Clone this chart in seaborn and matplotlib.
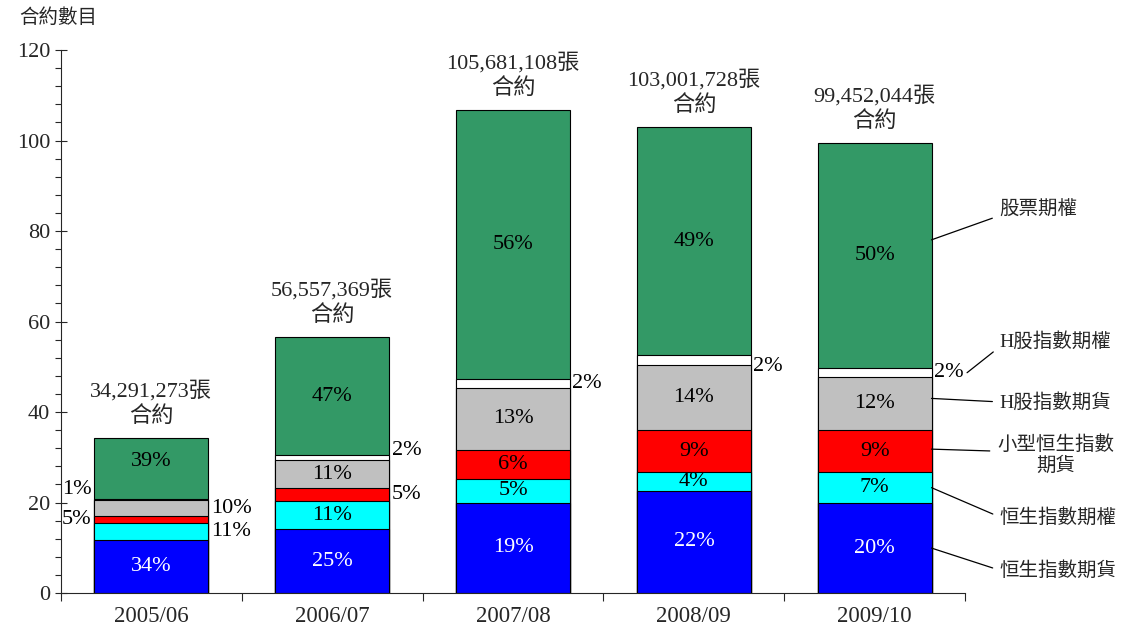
import matplotlib
matplotlib.use("Agg")
import matplotlib.pyplot as plt
import matplotlib.ticker as ticker
import seaborn as sns

# Categories and totals (number of contracts)
years = ["2005/06", "2006/07", "2007/08", "2008/09", "2009/10"]
total_labels = ["34,291,273", "56,557,369", "105,681,108", "103,001,728", "99,452,044"]

# Segment sizes in millions of contracts (bottom to top)
hsi_fut = [11.7, 14.1, 20.0, 22.6, 19.9]
hsi_opt = [3.7, 6.2, 5.3, 4.1, 6.8]
mhi_fut = [1.6, 2.9, 6.4, 9.3, 9.3]
hh_fut = [3.5, 6.2, 13.7, 14.5, 11.7]
hh_opt = [0.4, 1.1, 2.0, 2.1, 2.0]
stock_opt = [13.4, 26.1, 59.3, 50.4, 49.75]

# Percent labels shown on the bars
pct_hsi_fut = ["34%", "25%", "19%", "22%", "20%"]
pct_hsi_opt = ["11%", "11%", "5%", "4%", "7%"]
pct_mhi_fut = ["5%", "5%", "6%", "9%", "9%"]
pct_hh_fut = ["10%", "11%", "13%", "14%", "12%"]
pct_hh_opt = ["1%", "2%", "2%", "2%", "2%"]
pct_stock_opt = ["39%", "47%", "56%", "49%", "50%"]

series_names = ["恒生指數期貨", "恒生指數期權", "小型恒生指數\n期貨",
                "H股指數期貨", "H股指數期權", "股票期權"]

layers = [hsi_fut, hsi_opt, mhi_fut, hh_fut, hh_opt, stock_opt]
pcts = [pct_hsi_fut, pct_hsi_opt, pct_mhi_fut, pct_hh_fut, pct_hh_opt, pct_stock_opt]
colors = ["#0000FF", "#00FFFF", "#FF0000", "#C0C0C0", "#FFFFFF", "#339966"]
text_colors = ["white", "black", "black", "black", "black", "black"]
# where each percent label goes: c = inside, r = right of bar, l = left of bar
places = [
    ["c", "c", "c", "c", "c"],
    ["r", "c", "c", "c", "c"],
    ["l", "r", "c", "c", "c"],
    ["r", "c", "c", "c", "c"],
    ["l", "r", "r", "r", "r"],
    ["c", "c", "c", "c", "c"],
]
nudges = {(4, 0): 7, (4, 1): 5, (4, 3): -5, (5, 0): 5}

sns.set_style("ticks")
plt.rcParams["font.family"] = ["Liberation Serif", "Noto Sans CJK TC"]
plt.rcParams["axes.linewidth"] = 0.8

fig, ax = plt.subplots(figsize=(11.25, 6.33), dpi=100)
fig.subplots_adjust(left=0.054, right=0.858, bottom=0.063, top=0.921)

bar_w = 0.627

# cumulative tops, drawn from the top layer down so lower layers overlap
bottoms = []
running = [0.0] * len(years)
for layer in layers:
    bottoms.append(list(running))
    running = [r + v for r, v in zip(running, layer)]

for k in range(len(layers) - 1, -1, -1):
    tops = [b + v for b, v in zip(bottoms[k], layers[k])]
    sns.barplot(x=years, y=tops, color=colors[k], saturation=1, width=bar_w,
                edgecolor="black", linewidth=0.8, ax=ax)

# percent labels
for k, layer in enumerate(layers):
    for i, v in enumerate(layer):
        ymid = bottoms[k][i] + v / 2
        dy = nudges.get((k, i), 0)
        p = places[k][i]
        if p == "c":
            ax.annotate(pcts[k][i], (i, ymid), xytext=(0, dy), textcoords="offset points",
                        ha="center", va="center", fontsize=16, color=text_colors[k])
        elif p == "r":
            ax.annotate(pcts[k][i], (i + bar_w / 2, ymid), xytext=(2, dy),
                        textcoords="offset points", ha="left", va="center",
                        fontsize=16, color="black")
        else:
            ax.annotate(pcts[k][i], (i - bar_w / 2, ymid), xytext=(-2, dy),
                        textcoords="offset points", ha="right", va="center",
                        fontsize=16, color="black")

# totals above bars
for i, lab in enumerate(total_labels):
    ax.annotate(lab + "張\n合約", (i, running[i]), xytext=(0, 8), textcoords="offset points",
                ha="center", va="bottom", fontsize=16, linespacing=1.3)

# series names on the right, pointing at the last bar
last = len(years) - 1
name_pos = [(1.103, 0.042), (1.103, 0.140), (1.100, 0.254),
            (1.100, 0.352), (1.100, 0.464), (1.081, 0.705)]
anchor_frac = [0.5, 0.5, 0.55, 0.6, 0.5, 0.57]
rel_y = [0.5, 0.5, 0.6, 0.5, 0.2, 0.2]
for k, name in enumerate(series_names):
    yanc = bottoms[k][last] + layers[k][last] * anchor_frac[k]
    x0 = last + bar_w / 2
    if k == 4:
        x0 = last + 0.51
    ax.annotate(name, xy=(x0, yanc), xycoords="data",
                xytext=name_pos[k], textcoords="axes fraction",
                ha="center", va="center", fontsize=14, annotation_clip=False,
                arrowprops=dict(arrowstyle="-", color="black", lw=0.9,
                                relpos=(0, rel_y[k]), shrinkA=3, shrinkB=0))

ax.text(-0.003, 1.059, "合約數目", transform=ax.transAxes, ha="center", va="center",
        fontsize=14)

ax.set_xlim(-0.5, len(years) - 0.5)
ax.set_ylim(0, 120)
ax.set_xlabel("")
ax.set_ylabel("")
ax.yaxis.set_major_locator(ticker.MultipleLocator(20))
ax.yaxis.set_minor_locator(ticker.MultipleLocator(4))
ax.tick_params(axis="y", which="major", length=9, width=0.8, direction="inout",
               labelsize=16, pad=3)
ax.tick_params(axis="y", which="minor", length=4, width=0.8)
ax.set_xticks(range(len(years)))
ax.set_xticklabels(years)
ax.xaxis.set_minor_locator(ticker.FixedLocator([i - 0.5 for i in range(len(years) + 1)]))
ax.tick_params(axis="x", which="major", length=0, labelsize=16.5, pad=9)
ax.tick_params(axis="x", which="minor", length=6, width=0.8)
sns.despine(ax=ax, top=True, right=True)

plt.savefig("out.png", dpi=100)
